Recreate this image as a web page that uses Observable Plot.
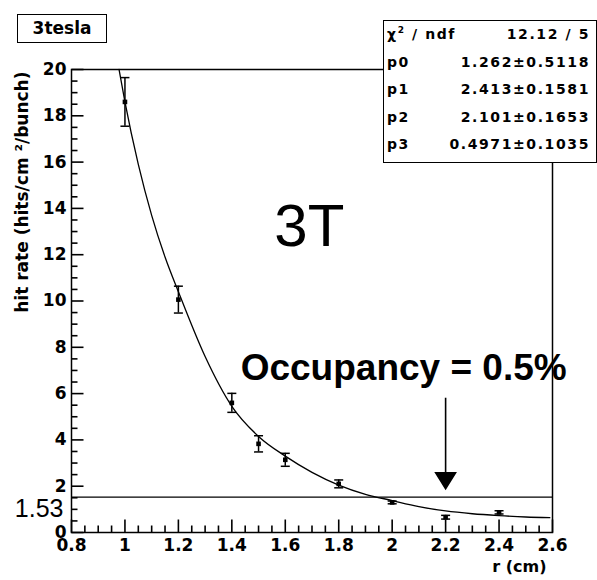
<!DOCTYPE html>
<html><head><meta charset="utf-8">
<script src="https://cdn.jsdelivr.net/npm/d3@7"></script>
<script src="https://cdn.jsdelivr.net/npm/@observablehq/plot@0.6"></script>
<style>
body{margin:0;background:#fff;}
#wrap{position:relative;width:597px;height:580px;background:#fff;}
.box{position:absolute;background:#fff;border:1.5px solid #000;box-sizing:border-box;font-family:"DejaVu Sans",sans-serif;font-weight:bold;color:#000;}
#title{left:17px;top:14px;width:90px;height:29px;font-size:17px;line-height:26px;text-align:center;}
#stats{left:383px;top:20px;width:214px;height:143px;font-size:14px;padding-top:2px;}
#stats .row{display:flex;justify-content:space-between;height:27.6px;line-height:22px;padding:0 6px 0 3px;letter-spacing:1.6px;}
#stats sup{font-size:9px;line-height:0;}
</style></head><body>
<div id="wrap"></div>
<script>
// measured points
const rVals   = [1.0, 1.2, 1.4, 1.5, 1.6, 1.8, 2.0, 2.2, 2.4];
const rates   = [18.6, 10.06, 5.6, 3.83, 3.14, 2.1, 1.3, 0.66, 0.87];
const errs    = [1.05, 0.58, 0.41, 0.35, 0.28, 0.17, 0.06, 0.08, 0.07];
// fitted curve
const fitR    = [0.978, 1.0, 1.05, 1.1, 1.15, 1.2, 1.3, 1.4, 1.5, 1.6, 1.7, 1.8, 1.9, 2.0, 2.1, 2.2, 2.3, 2.4, 2.5, 2.59];
const fitRate = [20, 18.6, 15.9, 13.7, 11.9, 10.4, 7.6, 5.45, 4.15, 3.3, 2.6, 2.05, 1.65, 1.38, 1.12, 0.93, 0.81, 0.73, 0.67, 0.64];
// ticks
const xMajor = [0.8, 1.0, 1.2, 1.4, 1.6, 1.8, 2.0, 2.2, 2.4, 2.6];
const xMinor = [0.85, 0.9, 0.95, 1.05, 1.1, 1.15, 1.25, 1.3, 1.35, 1.45, 1.5, 1.55, 1.65, 1.7, 1.75, 1.85, 1.9, 1.95, 2.05, 2.1, 2.15, 2.25, 2.3, 2.35, 2.45, 2.5, 2.55];
const yMajor = [0, 2, 4, 6, 8, 10, 12, 14, 16, 18, 20];
const yMinor = [0.5, 1, 1.5, 2.5, 3, 3.5, 4.5, 5, 5.5, 6.5, 7, 7.5, 8.5, 9, 9.5, 10.5, 11, 11.5, 12.5, 13, 13.5, 14.5, 15, 15.5, 16.5, 17, 17.5, 18.5, 19, 19.5];
// annotations
const thresholdY = [1.53];
const thresholdLabel = ["1.53"];
const bigLabel = [{x: 1.69, y: 13.2, text: "3T"}];
const occLabel = [{x: 2.043, y: 7.1, text: "Occupancy = 0.5%"}];
const arrowX = [2.2], arrowFrom = [5.8], arrowTip = [1.89];
// stats
const statNames  = ["χ<sup>2</sup> / ndf", "p0", "p1", "p2", "p3"];
const statValues = ["12.12 / 5", "1.262±0.5118", "2.413±0.1581", "2.101±0.1653", "0.4971±0.1035"];
const histTitle = "3tesla";

const xDomain = [0.8, 2.6], yDomain = [0, 20];
const W = 597, H = 580, mT = 69, mR = 45, mB = 48, mL = 71;
const frameW = W - mL - mR, frameH = H - mT - mB;
const pxX = (xDomain[1] - xDomain[0]) / frameW, pxY = (yDomain[1] - yDomain[0]) / frameH;

const pts = rVals.map((r, i) => ({r, v: rates[i], lo: rates[i] - errs[i], hi: rates[i] + errs[i]}));
const fit = fitR.map((r, i) => ({r, v: fitRate[i]}));
const xTicks = [...xMinor.map(v => ({v, len: 7})), ...xMajor.map(v => ({v, len: 13}))];
const yTicks = [...yMinor.map(v => ({v, len: 6})), ...yMajor.map(v => ({v, len: 12}))];

const capSymbol = {draw(ctx) { ctx.moveTo(-4.5, 0); ctx.lineTo(4.5, 0); }};
const headSymbol = {draw(ctx) { ctx.moveTo(-10, -16); ctx.lineTo(10, -16); ctx.lineTo(0, 0); ctx.closePath(); }};

const fmt = d3.format("~g");
const chart = Plot.plot({
  width: W, height: H,
  marginTop: mT, marginRight: mR, marginBottom: mB, marginLeft: mL,
  x: {domain: xDomain},
  y: {domain: yDomain},
  style: {fontFamily: '"DejaVu Sans", sans-serif', fontWeight: "bold", fontSize: "17px", background: "white", color: "black", overflow: "visible"},
  marks: [
    Plot.ruleY(thresholdY, {stroke: "black", strokeWidth: 1.3}),
    // inward ticks as links
    Plot.link(xTicks, {x1: "v", x2: "v", y1: () => yDomain[0], y2: d => yDomain[0] + d.len * pxY, stroke: "#000", strokeWidth: 1.6}),
    Plot.link(yTicks, {y1: "v", y2: "v", x1: () => xDomain[0], x2: d => xDomain[0] + d.len * pxX, stroke: "#000", strokeWidth: 1.6}),
    Plot.axisX({ticks: xMajor, tickSize: 0, tickPadding: 6, tickFormat: fmt, label: null, fontSize: 17}),
    Plot.axisY({ticks: yMajor, tickSize: 0, tickPadding: 5, tickFormat: fmt, label: null, fontSize: 17}),
    Plot.text(["r (cm)"], {frameAnchor: "bottom-right", text: d => d, textAnchor: "end", lineAnchor: "middle", dx: -6, dy: 34, fontSize: 16}),
    Plot.text(["hit rate (hits/cm ²/bunch)"], {frameAnchor: "top-left", text: d => d, rotate: -90, textAnchor: "end", lineAnchor: "middle", dx: -49, dy: 2, fontSize: 17}),
    Plot.text(thresholdLabel, {y: thresholdY, text: d => d, frameAnchor: "left", textAnchor: "end", lineAnchor: "middle", dx: -8, dy: 12, fontSize: 25, fontWeight: "normal", fontFamily: '"Liberation Sans", Arial, sans-serif'}),
    Plot.line(fit, {x: "r", y: "v", curve: "monotone-x", stroke: "black", strokeWidth: 1.3}),
    Plot.ruleX(pts, {x: "r", y1: "lo", y2: "hi", stroke: "black", strokeWidth: 1.5}),
    Plot.dot(pts, {x: "r", y: "hi", symbol: capSymbol, stroke: "black", fill: "none", strokeWidth: 1.5}),
    Plot.dot(pts, {x: "r", y: "lo", symbol: capSymbol, stroke: "black", fill: "none", strokeWidth: 1.5}),
    Plot.dot(pts, {x: "r", y: "v", symbol: "square", r: 2.6, fill: "black", stroke: "none"}),
    Plot.text(bigLabel, {x: "x", y: "y", text: "text", fontSize: 60, fontWeight: "normal", fontFamily: '"Liberation Sans", Arial, sans-serif', lineAnchor: "middle"}),
    Plot.text(occLabel, {x: "x", y: "y", text: "text", fontSize: 37, fontWeight: "bold", fontFamily: '"Liberation Sans", Arial, sans-serif', lineAnchor: "middle"}),
    Plot.ruleX(arrowX, {x: d => d, y1: arrowFrom[0], y2: arrowTip[0] + 0.6, stroke: "black", strokeWidth: 1.6}),
    Plot.dot(arrowX, {x: d => d, y: arrowTip[0], symbol: headSymbol, fill: "black", stroke: "black"}),
    Plot.frame({stroke: "black", strokeWidth: 1.5})
  ]
});
chart.style.position = "absolute";
chart.style.left = "0px";
chart.style.top = "0px";

const wrap = document.getElementById("wrap");
wrap.appendChild(chart);

const t = document.createElement("div");
t.className = "box"; t.id = "title"; t.textContent = histTitle;
wrap.appendChild(t);

const s = document.createElement("div");
s.className = "box"; s.id = "stats";
statNames.forEach((n, i) => {
  const row = document.createElement("div");
  row.className = "row";
  row.innerHTML = `<span>${n}</span><span>${statValues[i]}</span>`;
  s.appendChild(row);
});
wrap.appendChild(s);
</script>
</body></html>
